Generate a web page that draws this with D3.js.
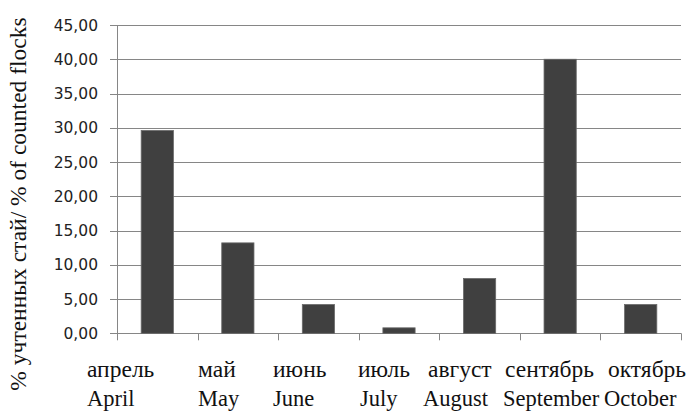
<!DOCTYPE html>
<html>
<head>
<meta charset="utf-8">
<script src="https://cdn.jsdelivr.net/npm/d3@7"></script>
</head>
<body style="margin:0">
<svg id="chart" width="690" height="411"></svg>
<script>
// ---- data ----
const categories = ["April", "May", "June", "July", "August", "September", "October"];
const labelsRu = ["апрель", "май", "июнь", "июль", "август", "сентябрь", "октябрь"];
const labelsEn = ["April", "May", "June", "July", "August", "September", "October"];
const values = [29.6, 13.2, 4.2, 0.8, 8.0, 40.0, 4.2];
const yTicks = [0, 5, 10, 15, 20, 25, 30, 35, 40, 45];
const yTitle = "% учтенных стай/ % of counted flocks";

// ---- layout (not data) ----
const plot = { left: 117, right: 681, top: 25, bottom: 333.3 };
const ruLabelX = [87, 198, 273, 358, 428, 505, 608];
const enLabelX = [87, 198, 273, 360, 423, 503, 604];
const SANS = "DejaVu Sans";
const SERIF = "Liberation Serif";

const svg = d3.select("#chart");

const x = d3.scaleBand()
  .domain(categories)
  .range([plot.left, plot.right])
  .paddingInner(0.6)
  .paddingOuter(0.3);

const y = d3.scaleLinear()
  .domain([0, 45])
  .range([plot.bottom, plot.top]);

const locale = d3.formatLocale({ decimal: ",", thousands: " ", grouping: [3], currency: ["", ""] });
const fmt = locale.format(".2f");

const gridColor = "#868686";

// gridlines + left ticks
svg.append("g")
  .selectAll("line")
  .data(yTicks)
  .join("line")
  .attr("x1", plot.left - 7)
  .attr("x2", plot.right)
  .attr("y1", d => Math.round(y(d)) + 0.5)
  .attr("y2", d => Math.round(y(d)) + 0.5)
  .attr("stroke", gridColor)
  .attr("stroke-width", 1);

// y tick labels
svg.append("g")
  .selectAll("text")
  .data(yTicks)
  .join("text")
  .attr("x", 98)
  .attr("y", d => y(d) + 5.5)
  .attr("text-anchor", "end")
  .style("font-family", SANS)
  .style("font-size", "15.5px")
  .attr("fill", "#222")
  .text(d => fmt(d));

// left axis line
svg.append("line")
  .attr("x1", plot.left + 0.5).attr("x2", plot.left + 0.5)
  .attr("y1", y(45)).attr("y2", y(0))
  .attr("stroke", gridColor);

// category boundary ticks
const step = x.step();
const start = x.range()[0];
const bounds = d3.range(categories.length + 1).map(i => start + i * step);
svg.append("g")
  .selectAll("line")
  .data(bounds)
  .join("line")
  .attr("x1", d => Math.round(d) + 0.5)
  .attr("x2", d => Math.round(d) + 0.5)
  .attr("y1", y(0))
  .attr("y2", y(0) + 7)
  .attr("stroke", gridColor);

// bars
svg.append("g")
  .selectAll("rect")
  .data(values)
  .join("rect")
  .attr("x", (d, i) => x(categories[i]))
  .attr("width", x.bandwidth())
  .attr("y", d => y(d))
  .attr("height", d => y(0) - y(d))
  .attr("fill", "#404040")
  .attr("stroke", "#6a6a6a")
  .attr("stroke-width", 0.8);

// category labels (two rows)
svg.append("g")
  .selectAll("text")
  .data(labelsRu)
  .join("text")
  .attr("x", (d, i) => ruLabelX[i])
  .attr("y", 377)
  .style("font-family", SERIF)
  .style("font-size", "23.5px")
  .attr("fill", "#111")
  .text(d => d);

svg.append("g")
  .selectAll("text")
  .data(labelsEn)
  .join("text")
  .attr("x", (d, i) => enLabelX[i])
  .attr("y", 406)
  .style("font-family", SERIF)
  .style("font-size", "22.5px")
  .attr("fill", "#111")
  .text(d => d);

// y axis title
svg.append("text")
  .attr("transform", "translate(26,204) rotate(-90)")
  .attr("text-anchor", "middle")
  .style("font-family", SERIF)
  .style("font-size", "23.5px")
  .attr("fill", "#111")
  .text(yTitle);
</script>
</body>
</html>
